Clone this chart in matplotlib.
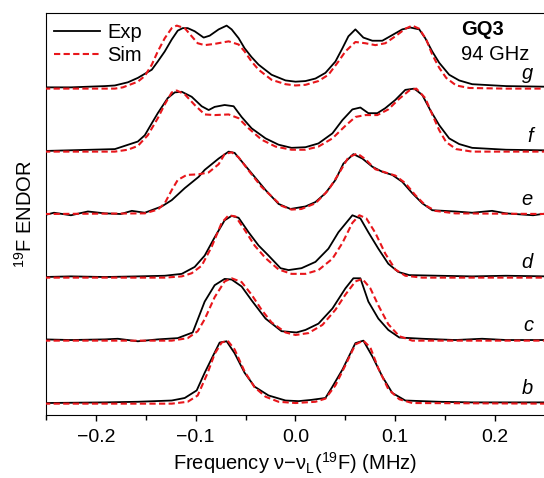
import matplotlib
matplotlib.use("Agg")
import matplotlib.pyplot as plt
from matplotlib.ticker import MultipleLocator

plt.rcParams['font.family'] = ['Liberation Sans', 'DejaVu Sans']
plt.rcParams['mathtext.fontset'] = 'custom'
plt.rcParams['mathtext.rm'] = 'Liberation Sans'
plt.rcParams['mathtext.it'] = 'Liberation Sans:italic'

# spectra b..g (MHz, normalised intensity)
exp_b_x = [-0.252, -0.191, -0.158, -0.124, -0.111, -0.099, -0.091, -0.082, -0.076, -0.069, -0.061, -0.051,
           -0.041, -0.027, -0.010, 0.003, 0.016, 0.030, 0.037, 0.047, 0.060, 0.068, 0.077, 0.087, 0.097,
           0.110, 0.144, 0.177, 0.252]
exp_b_y = [0.00, 0.01, 0.02, 0.04, 0.08, 0.20, 0.48, 0.77, 0.96, 0.98, 0.79, 0.48,
           0.26, 0.12, 0.04, 0.03, 0.05, 0.08, 0.26, 0.53, 0.95, 0.99, 0.74, 0.42, 0.16,
           0.04, 0.02, 0.01, 0.01]
sim_b_x = [-0.252, -0.124, -0.108, -0.098, -0.088, -0.081, -0.074, -0.068, -0.061, -0.051, -0.041, -0.030,
           -0.017, 0.000, 0.020, 0.030, 0.040, 0.050, 0.060, 0.068, 0.075, 0.083, 0.093, 0.104, 0.117, 0.252]
sim_b_y = [-0.01, -0.01, 0.02, 0.12, 0.48, 0.78, 0.96, 0.99, 0.85, 0.50, 0.25, 0.10,
           0.02, 0.00, 0.02, 0.07, 0.28, 0.60, 0.93, 0.99, 0.88, 0.55, 0.22, 0.06, 0.00, -0.01]

exp_c_x = [-0.252, -0.225, -0.191, -0.178, -0.158, -0.138, -0.118, -0.103, -0.091, -0.081, -0.071, -0.064,
           -0.054, -0.044, -0.030, -0.014, 0.001, 0.010, 0.023, 0.037, 0.050, 0.058, 0.065, 0.073, 0.083,
           0.093, 0.104, 0.127, 0.160, 0.187, 0.211, 0.252]
exp_c_y = [0.01, 0.00, 0.01, 0.02, -0.02, 0.01, 0.03, 0.12, 0.61, 0.87, 0.97, 0.96,
           0.85, 0.63, 0.34, 0.14, 0.12, 0.16, 0.26, 0.50, 0.82, 0.98, 0.98, 0.61, 0.34,
           0.16, 0.04, 0.02, 0.00, 0.02, 0.00, 0.00]
sim_c_x = [-0.252, -0.124, -0.108, -0.098, -0.091, -0.081, -0.071, -0.064, -0.054, -0.044, -0.034, -0.024,
           -0.010, 0.000, 0.013, 0.027, 0.040, 0.050, 0.060, 0.067, 0.075, 0.083, 0.093, 0.104, 0.117, 0.252]
sim_c_y = [-0.01, -0.01, 0.03, 0.14, 0.33, 0.68, 0.93, 0.98, 0.92, 0.72, 0.48, 0.28,
           0.12, 0.08, 0.11, 0.24, 0.48, 0.72, 0.93, 0.97, 0.82, 0.55, 0.25, 0.06, -0.01, -0.01]

exp_d_x = [-0.252, -0.225, -0.191, -0.158, -0.131, -0.114, -0.101, -0.091, -0.081, -0.071, -0.064, -0.057,
           -0.047, -0.037, -0.027, -0.015, -0.007, 0.006, 0.020, 0.033, 0.043, 0.057, 0.065, 0.073, 0.083,
           0.093, 0.103, 0.114, 0.144, 0.177, 0.211, 0.252]
exp_d_y = [0.00, 0.01, 0.00, 0.01, 0.02, 0.05, 0.16, 0.34, 0.63, 0.90, 0.97, 0.94,
           0.71, 0.50, 0.34, 0.14, 0.11, 0.14, 0.24, 0.45, 0.71, 0.98, 0.93, 0.71, 0.45,
           0.21, 0.08, 0.03, 0.02, 0.01, 0.02, 0.01]
sim_d_x = [-0.252, -0.131, -0.114, -0.104, -0.094, -0.084, -0.074, -0.067, -0.060, -0.051, -0.041, -0.030,
           -0.017, -0.004, 0.010, 0.023, 0.037, 0.047, 0.057, 0.064, 0.071, 0.080, 0.090, 0.100, 0.110,
           0.127, 0.252]
sim_d_y = [-0.01, -0.01, 0.01, 0.06, 0.18, 0.48, 0.86, 0.98, 0.96, 0.75, 0.50, 0.30,
           0.12, 0.05, 0.05, 0.11, 0.29, 0.54, 0.86, 0.98, 0.93, 0.70, 0.37, 0.12, 0.02,
           -0.01, -0.01]

exp_e_x = [-0.252, -0.242, -0.225, -0.208, -0.191, -0.175, -0.164, -0.151, -0.134, -0.124, -0.111, -0.097,
           -0.091, -0.077, -0.067, -0.061, -0.051, -0.041, -0.030, -0.017, -0.005, 0.010, 0.020, 0.030,
           0.040, 0.048, 0.058, 0.067, 0.077, 0.087, 0.097, 0.107, 0.117, 0.127, 0.137, 0.160, 0.177,
           0.197, 0.211, 0.238, 0.252]
exp_e_y = [-0.02, 0.02, -0.02, 0.04, 0.01, 0.00, 0.05, 0.02, 0.12, 0.22, 0.41, 0.59,
           0.70, 0.88, 0.99, 0.97, 0.78, 0.59, 0.38, 0.16, 0.08, 0.12, 0.19, 0.33,
           0.54, 0.80, 0.95, 0.88, 0.75, 0.67, 0.62, 0.51, 0.33, 0.17, 0.06, 0.04, 0.02,
           0.05, 0.01, -0.02, 0.01]
sim_e_x = [-0.252, -0.151, -0.138, -0.131, -0.124, -0.118, -0.109, -0.097, -0.087, -0.077, -0.071, -0.064,
           -0.057, -0.047, -0.034, -0.024, -0.014, -0.004, 0.006, 0.020, 0.033, 0.043, 0.053, 0.062,
           0.070, 0.080, 0.090, 0.100, 0.110, 0.120, 0.130, 0.140, 0.160, 0.252]
sim_e_y = [0.00, 0.01, 0.07, 0.17, 0.38, 0.54, 0.62, 0.63, 0.66, 0.79, 0.95, 0.98,
           0.90, 0.69, 0.43, 0.28, 0.13, 0.07, 0.08, 0.17, 0.38, 0.63, 0.90, 0.96,
           0.87, 0.71, 0.66, 0.61, 0.49, 0.30, 0.14, 0.05, 0.01, 0.00]

exp_f_x = [-0.252, -0.181, -0.158, -0.151, -0.144, -0.138, -0.128, -0.121, -0.114, -0.104, -0.094, -0.087,
           -0.081, -0.071, -0.062, -0.054, -0.044, -0.030, -0.017, -0.004, 0.010, 0.023, 0.037, 0.047,
           0.057, 0.065, 0.073, 0.082, 0.090, 0.100, 0.110, 0.119, 0.127, 0.135, 0.144, 0.154, 0.164,
           0.177, 0.211, 0.252]
exp_f_y = [0.00, 0.03, 0.15, 0.25, 0.44, 0.60, 0.84, 0.93, 0.94, 0.86, 0.71, 0.65,
           0.70, 0.73, 0.71, 0.54, 0.36, 0.20, 0.10, 0.05, 0.06, 0.12, 0.28, 0.49,
           0.66, 0.69, 0.60, 0.60, 0.68, 0.81, 0.97, 0.99, 0.89, 0.65, 0.41, 0.20, 0.11,
           0.05, 0.02, 0.01]
sim_f_x = [-0.252, -0.181, -0.168, -0.158, -0.148, -0.138, -0.131, -0.124, -0.119, -0.111, -0.101, -0.091,
           -0.081, -0.067, -0.057, -0.047, -0.034, -0.020, -0.004, 0.010, 0.023, 0.037, 0.050, 0.060,
           0.070, 0.082, 0.093, 0.104, 0.114, 0.121, 0.130, 0.137, 0.144, 0.151, 0.161, 0.177, 0.252]
sim_f_y = [-0.01, -0.01, 0.02, 0.08, 0.25, 0.52, 0.74, 0.93, 0.96, 0.90, 0.73, 0.58,
           0.57, 0.58, 0.52, 0.36, 0.18, 0.07, 0.02, 0.02, 0.07, 0.20, 0.40, 0.54,
           0.57, 0.57, 0.66, 0.83, 0.96, 0.99, 0.84, 0.58, 0.33, 0.14, 0.03, -0.01, -0.01]

exp_g_x = [-0.252, -0.225, -0.191, -0.181, -0.168, -0.158, -0.144, -0.138, -0.131, -0.124, -0.118, -0.113,
           -0.108, -0.101, -0.092, -0.086, -0.077, -0.069, -0.064, -0.057, -0.051, -0.044, -0.037, -0.024,
           -0.010, 0.000, 0.010, 0.020, 0.030, 0.040, 0.047, 0.053, 0.060, 0.068, 0.077, 0.087, 0.097,
           0.107, 0.115, 0.124, 0.130, 0.137, 0.144, 0.154, 0.164, 0.177, 0.211, 0.252]
exp_g_y = [0.01, 0.01, 0.03, 0.04, 0.09, 0.16, 0.29, 0.42, 0.58, 0.77, 0.91, 0.95,
           0.95, 0.90, 0.80, 0.83, 0.93, 0.99, 0.93, 0.79, 0.63, 0.49, 0.37, 0.21,
           0.12, 0.10, 0.11, 0.15, 0.24, 0.42, 0.63, 0.82, 0.93, 0.80, 0.75, 0.75, 0.84,
           0.93, 0.96, 0.93, 0.79, 0.58, 0.40, 0.21, 0.12, 0.06, 0.03, 0.02]
sim_g_x = [-0.252, -0.181, -0.173, -0.158, -0.151, -0.144, -0.138, -0.131, -0.124, -0.119, -0.111, -0.104,
           -0.098, -0.091, -0.081, -0.067, -0.057, -0.051, -0.044, -0.037, -0.024, -0.010, 0.000, 0.010,
           0.023, 0.033, 0.043, 0.050, 0.060, 0.070, 0.080, 0.090, 0.100, 0.110, 0.117, 0.124, 0.131,
           0.137, 0.144, 0.151, 0.161, 0.174, 0.211, 0.252]
sim_g_y = [-0.01, -0.01, 0.01, 0.10, 0.19, 0.37, 0.58, 0.79, 0.95, 0.99, 0.95, 0.82,
           0.71, 0.68, 0.70, 0.74, 0.69, 0.58, 0.42, 0.29, 0.13, 0.06, 0.04, 0.05,
           0.11, 0.21, 0.42, 0.58, 0.73, 0.71, 0.68, 0.71, 0.82, 0.94, 0.99, 0.94, 0.77,
           0.53, 0.32, 0.16, 0.04, 0.00, -0.01, -0.01]

labels = ['b', 'c', 'd', 'e', 'f', 'g']
exp_x = [exp_b_x, exp_c_x, exp_d_x, exp_e_x, exp_f_x, exp_g_x]
exp_y = [exp_b_y, exp_c_y, exp_d_y, exp_e_y, exp_f_y, exp_g_y]
sim_x = [sim_b_x, sim_c_x, sim_d_x, sim_e_x, sim_f_x, sim_g_x]
sim_y = [sim_b_y, sim_c_y, sim_d_y, sim_e_y, sim_f_y, sim_g_y]

fs = 14.5

fig = plt.figure(figsize=(5.44, 4.78), dpi=100)
ax = fig.add_axes([46/544, 1-415/478, 499/544, 402/478])

red = '#e8161b'
for i in range(len(labels)):
    off = i * 1.0
    ax.plot(exp_x[i], [v + off for v in exp_y[i]], color='black', lw=1.3,
            label='Exp' if i == 0 else None, zorder=2)
    ax.plot(sim_x[i], [v + off for v in sim_y[i]], color=red, lw=1.5, ls=(0, (3, 1.6)),
            label='Sim' if i == 0 else None, zorder=3)
    ax.text(0.238, off + 0.15, labels[i], fontsize=fs, style='italic', ha='right', va='baseline')

ax.text(0.166, 5.93, 'GQ3', fontsize=fs, fontweight='bold', ha='left', va='center')
ax.text(0.166, 5.53, '94 GHz', fontsize=fs, ha='left', va='center')

ax.set_xlim(-0.25, 0.25)
ax.set_ylim(-0.19, 6.19)
ax.set_yticks([])
ax.xaxis.set_major_locator(MultipleLocator(0.1))
ax.xaxis.set_minor_locator(MultipleLocator(0.05))
ax.tick_params(axis='x', which='major', direction='out', length=4, width=1, labelsize=14, pad=6)
ax.tick_params(axis='x', which='minor', direction='out', length=3.5, width=1)
ax.xaxis.set_major_formatter(plt.FuncFormatter(lambda v, p: ('%.1f' % v).replace('-', '\u2212')))

ax.set_xlabel('Frequency \u03bd\u2212\u03bd$_\\mathrm{L}$($^{19}$F) (MHz)', fontsize=fs, labelpad=3)
ax.set_ylabel('$^{19}$F ENDOR', fontsize=fs)
ax.yaxis.set_label_coords(-0.02, 0.5)

leg = ax.legend(loc='upper left', bbox_to_anchor=(0.0, 0.995), frameon=False, fontsize=fs,
                handlelength=2.3, handletextpad=0.35, borderaxespad=0.0, labelspacing=0.2)

fig.savefig('out.png', dpi=100)
